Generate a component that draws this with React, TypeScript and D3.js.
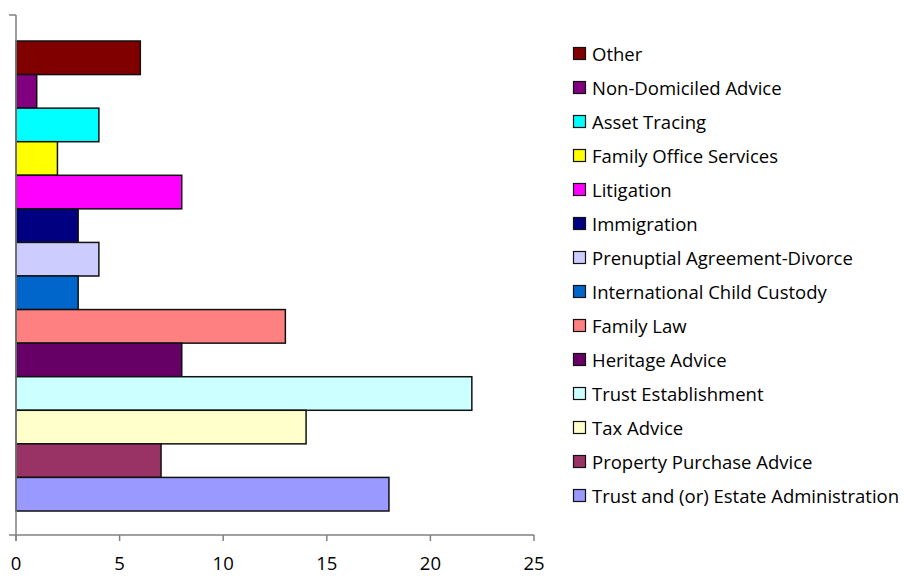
import React from "react";
import * as d3 from "d3";

const categories = [
  "Other",
  "Non-Domiciled Advice",
  "Asset Tracing",
  "Family Office Services",
  "Litigation",
  "Immigration",
  "Prenuptial Agreement-Divorce",
  "International Child Custody",
  "Family Law",
  "Heritage Advice",
  "Trust Establishment",
  "Tax Advice",
  "Property Purchase Advice",
  "Trust and (or) Estate Administration",
];
const values = [6, 1, 4, 2, 8, 3, 4, 3, 13, 8, 22, 14, 7, 18];
const colors = [
  "#800000",
  "#800080",
  "#00FFFF",
  "#FFFF00",
  "#FF00FF",
  "#000080",
  "#CCCCFF",
  "#0066CC",
  "#FF8080",
  "#660066",
  "#CCFFFF",
  "#FFFFCC",
  "#993366",
  "#9999FF",
];
const xTicks = [0, 5, 10, 15, 20, 25];

export default function App() {
  const W = 904;
  const H = 576;
  const x = d3.scaleLinear().domain([0, 25]).range([16, 534]);
  const y = d3.scaleBand<string>().domain(categories).range([41, 511]).padding(0);
  const plotTop = 15;
  const plotBottom = 535;
  const font = "'Open Sans', 'Noto Sans', sans-serif";
  return (
    <svg
      width={W}
      height={H}
      style={{ position: "absolute", left: 0, top: 0, background: "#fff" }}
    >
      <rect x={0} y={0} width={W} height={H} fill="#fff" />
      {categories.map((c, i) => (
        <rect
          key={c}
          x={x(0)}
          y={y(c)!}
          width={x(values[i]) - x(0)}
          height={y.bandwidth()}
          fill={colors[i]}
          stroke="#111"
          strokeWidth={1.5}
        />
      ))}
      {/* y axis */}
      <line x1={x(0)} x2={x(0)} y1={plotTop} y2={plotBottom + 6} stroke="#808080" strokeWidth={1.5} />
      <line x1={9} x2={x(0)} y1={plotTop} y2={plotTop} stroke="#808080" strokeWidth={1.5} />
      {/* x axis */}
      <line x1={9} x2={x(25)} y1={plotBottom} y2={plotBottom} stroke="#808080" strokeWidth={1.5} />
      {xTicks.map((t) => (
        <g key={t}>
          <line x1={x(t)} x2={x(t)} y1={plotBottom} y2={plotBottom + 6} stroke="#808080" strokeWidth={1.5} />
          <text
            x={x(t)}
            y={570}
            textAnchor="middle"
            fontFamily={font}
            fontSize={18.5}
            fill="#000"
          >
            {t}
          </text>
        </g>
      ))}
      {/* legend */}
      {categories.map((c, i) => {
        const cy = 54 + i * 34;
        return (
          <g key={"lg" + c}>
            <rect x={573.5} y={cy - 6.5} width={12} height={12} fill={colors[i]} stroke="#111" strokeWidth={1.2} />
            <text x={592} y={cy + 6.5} fontFamily={font} fontSize={18.5} fill="#000">
              {c}
            </text>
          </g>
        );
      })}
    </svg>
  );
}
